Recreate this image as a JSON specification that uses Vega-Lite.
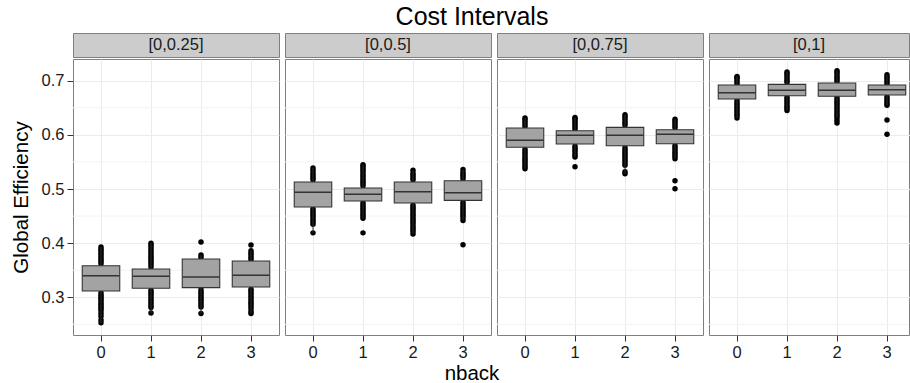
{
  "$schema": "https://vega.github.io/schema/vega-lite/v6.json",
  "padding": {"left": 10, "top": 0, "right": 0, "bottom": 0},
  "background": "white",
  "datasets": {
    "titles": [{"label": "Cost Intervals"}],
    "xtitles": [{"label": "nback"}],
    "strips": [{"panel": "[0,0.25]"}, {"panel": "[0,0.5]"}, {"panel": "[0,0.75]"}, {"panel": "[0,1]"}],
    "minor": [{"v": 0.25}, {"v": 0.35}, {"v": 0.45}, {"v": 0.55}, {"v": 0.65}],
    "boxes": [
      {"panel": "[0,0.25]", "nback": 0, "lo": 0.253, "q1": 0.3116, "med": 0.340, "q3": 0.3584, "hi": 0.393},
      {"panel": "[0,0.25]", "nback": 1, "lo": 0.271, "q1": 0.3166, "med": 0.3388, "q3": 0.3523, "hi": 0.400},
      {"panel": "[0,0.25]", "nback": 2, "lo": 0.270, "q1": 0.3178, "med": 0.3375, "q3": 0.3707, "hi": 0.378},
      {"panel": "[0,0.25]", "nback": 3, "lo": 0.270, "q1": 0.319, "med": 0.3406, "q3": 0.367, "hi": 0.386},
      {"panel": "[0,0.5]", "nback": 0, "lo": 0.419, "q1": 0.4668, "med": 0.4939, "q3": 0.5129, "hi": 0.539},
      {"panel": "[0,0.5]", "nback": 1, "lo": 0.446, "q1": 0.4778, "med": 0.4902, "q3": 0.5018, "hi": 0.545},
      {"panel": "[0,0.5]", "nback": 2, "lo": 0.417, "q1": 0.4742, "med": 0.495, "q3": 0.5129, "hi": 0.5345},
      {"panel": "[0,0.5]", "nback": 3, "lo": 0.442, "q1": 0.4791, "med": 0.4932, "q3": 0.5153, "hi": 0.536},
      {"panel": "[0,0.75]", "nback": 0, "lo": 0.5375, "q1": 0.577, "med": 0.590, "q3": 0.6126, "hi": 0.631},
      {"panel": "[0,0.75]", "nback": 1, "lo": 0.559, "q1": 0.5831, "med": 0.5992, "q3": 0.6077, "hi": 0.632},
      {"panel": "[0,0.75]", "nback": 2, "lo": 0.528, "q1": 0.580, "med": 0.5992, "q3": 0.6139, "hi": 0.637},
      {"panel": "[0,0.75]", "nback": 3, "lo": 0.556, "q1": 0.5837, "med": 0.601, "q3": 0.6095, "hi": 0.629},
      {"panel": "[0,1]", "nback": 0, "lo": 0.631, "q1": 0.6662, "med": 0.678, "q3": 0.692, "hi": 0.708},
      {"panel": "[0,1]", "nback": 1, "lo": 0.645, "q1": 0.6723, "med": 0.6823, "q3": 0.6933, "hi": 0.716},
      {"panel": "[0,1]", "nback": 2, "lo": 0.632, "q1": 0.6712, "med": 0.6823, "q3": 0.6957, "hi": 0.7185},
      {"panel": "[0,1]", "nback": 3, "lo": 0.6546, "q1": 0.6736, "med": 0.6834, "q3": 0.692, "hi": 0.711}
    ],
    "pts": [
      {"panel": "[0,0.25]", "nback": 0, "value": 0.362}, {"panel": "[0,0.25]", "nback": 0, "value": 0.366}, {"panel": "[0,0.25]", "nback": 0, "value": 0.370}, {"panel": "[0,0.25]", "nback": 0, "value": 0.374}, {"panel": "[0,0.25]", "nback": 0, "value": 0.378}, {"panel": "[0,0.25]", "nback": 0, "value": 0.382}, {"panel": "[0,0.25]", "nback": 0, "value": 0.386}, {"panel": "[0,0.25]", "nback": 0, "value": 0.389}, {"panel": "[0,0.25]", "nback": 0, "value": 0.393},
      {"panel": "[0,0.25]", "nback": 0, "value": 0.308}, {"panel": "[0,0.25]", "nback": 0, "value": 0.304}, {"panel": "[0,0.25]", "nback": 0, "value": 0.300}, {"panel": "[0,0.25]", "nback": 0, "value": 0.297}, {"panel": "[0,0.25]", "nback": 0, "value": 0.293}, {"panel": "[0,0.25]", "nback": 0, "value": 0.289}, {"panel": "[0,0.25]", "nback": 0, "value": 0.286}, {"panel": "[0,0.25]", "nback": 0, "value": 0.282}, {"panel": "[0,0.25]", "nback": 0, "value": 0.279}, {"panel": "[0,0.25]", "nback": 0, "value": 0.275}, {"panel": "[0,0.25]", "nback": 0, "value": 0.270}, {"panel": "[0,0.25]", "nback": 0, "value": 0.265}, {"panel": "[0,0.25]", "nback": 0, "value": 0.258}, {"panel": "[0,0.25]", "nback": 0, "value": 0.253},
      {"panel": "[0,0.25]", "nback": 1, "value": 0.356}, {"panel": "[0,0.25]", "nback": 1, "value": 0.360}, {"panel": "[0,0.25]", "nback": 1, "value": 0.364}, {"panel": "[0,0.25]", "nback": 1, "value": 0.368}, {"panel": "[0,0.25]", "nback": 1, "value": 0.372}, {"panel": "[0,0.25]", "nback": 1, "value": 0.376}, {"panel": "[0,0.25]", "nback": 1, "value": 0.380}, {"panel": "[0,0.25]", "nback": 1, "value": 0.384}, {"panel": "[0,0.25]", "nback": 1, "value": 0.388}, {"panel": "[0,0.25]", "nback": 1, "value": 0.392}, {"panel": "[0,0.25]", "nback": 1, "value": 0.396}, {"panel": "[0,0.25]", "nback": 1, "value": 0.400},
      {"panel": "[0,0.25]", "nback": 1, "value": 0.313}, {"panel": "[0,0.25]", "nback": 1, "value": 0.309}, {"panel": "[0,0.25]", "nback": 1, "value": 0.305}, {"panel": "[0,0.25]", "nback": 1, "value": 0.301}, {"panel": "[0,0.25]", "nback": 1, "value": 0.297}, {"panel": "[0,0.25]", "nback": 1, "value": 0.293}, {"panel": "[0,0.25]", "nback": 1, "value": 0.289}, {"panel": "[0,0.25]", "nback": 1, "value": 0.285}, {"panel": "[0,0.25]", "nback": 1, "value": 0.281}, {"panel": "[0,0.25]", "nback": 1, "value": 0.271},
      {"panel": "[0,0.25]", "nback": 2, "value": 0.374}, {"panel": "[0,0.25]", "nback": 2, "value": 0.378}, {"panel": "[0,0.25]", "nback": 2, "value": 0.402},
      {"panel": "[0,0.25]", "nback": 2, "value": 0.314}, {"panel": "[0,0.25]", "nback": 2, "value": 0.310}, {"panel": "[0,0.25]", "nback": 2, "value": 0.306}, {"panel": "[0,0.25]", "nback": 2, "value": 0.302}, {"panel": "[0,0.25]", "nback": 2, "value": 0.298}, {"panel": "[0,0.25]", "nback": 2, "value": 0.294}, {"panel": "[0,0.25]", "nback": 2, "value": 0.290}, {"panel": "[0,0.25]", "nback": 2, "value": 0.286}, {"panel": "[0,0.25]", "nback": 2, "value": 0.282}, {"panel": "[0,0.25]", "nback": 2, "value": 0.270},
      {"panel": "[0,0.25]", "nback": 3, "value": 0.370}, {"panel": "[0,0.25]", "nback": 3, "value": 0.374}, {"panel": "[0,0.25]", "nback": 3, "value": 0.378}, {"panel": "[0,0.25]", "nback": 3, "value": 0.382}, {"panel": "[0,0.25]", "nback": 3, "value": 0.386}, {"panel": "[0,0.25]", "nback": 3, "value": 0.3966},
      {"panel": "[0,0.25]", "nback": 3, "value": 0.315}, {"panel": "[0,0.25]", "nback": 3, "value": 0.311}, {"panel": "[0,0.25]", "nback": 3, "value": 0.307}, {"panel": "[0,0.25]", "nback": 3, "value": 0.303}, {"panel": "[0,0.25]", "nback": 3, "value": 0.299}, {"panel": "[0,0.25]", "nback": 3, "value": 0.295}, {"panel": "[0,0.25]", "nback": 3, "value": 0.291}, {"panel": "[0,0.25]", "nback": 3, "value": 0.287}, {"panel": "[0,0.25]", "nback": 3, "value": 0.283}, {"panel": "[0,0.25]", "nback": 3, "value": 0.279}, {"panel": "[0,0.25]", "nback": 3, "value": 0.274}, {"panel": "[0,0.25]", "nback": 3, "value": 0.270},

      {"panel": "[0,0.5]", "nback": 0, "value": 0.517}, {"panel": "[0,0.5]", "nback": 0, "value": 0.521}, {"panel": "[0,0.5]", "nback": 0, "value": 0.525}, {"panel": "[0,0.5]", "nback": 0, "value": 0.529}, {"panel": "[0,0.5]", "nback": 0, "value": 0.534}, {"panel": "[0,0.5]", "nback": 0, "value": 0.539},
      {"panel": "[0,0.5]", "nback": 0, "value": 0.463}, {"panel": "[0,0.5]", "nback": 0, "value": 0.459}, {"panel": "[0,0.5]", "nback": 0, "value": 0.455}, {"panel": "[0,0.5]", "nback": 0, "value": 0.451}, {"panel": "[0,0.5]", "nback": 0, "value": 0.447}, {"panel": "[0,0.5]", "nback": 0, "value": 0.443}, {"panel": "[0,0.5]", "nback": 0, "value": 0.439}, {"panel": "[0,0.5]", "nback": 0, "value": 0.435}, {"panel": "[0,0.5]", "nback": 0, "value": 0.419},
      {"panel": "[0,0.5]", "nback": 1, "value": 0.506}, {"panel": "[0,0.5]", "nback": 1, "value": 0.510}, {"panel": "[0,0.5]", "nback": 1, "value": 0.514}, {"panel": "[0,0.5]", "nback": 1, "value": 0.518}, {"panel": "[0,0.5]", "nback": 1, "value": 0.522}, {"panel": "[0,0.5]", "nback": 1, "value": 0.526}, {"panel": "[0,0.5]", "nback": 1, "value": 0.530}, {"panel": "[0,0.5]", "nback": 1, "value": 0.534}, {"panel": "[0,0.5]", "nback": 1, "value": 0.538}, {"panel": "[0,0.5]", "nback": 1, "value": 0.542}, {"panel": "[0,0.5]", "nback": 1, "value": 0.545},
      {"panel": "[0,0.5]", "nback": 1, "value": 0.474}, {"panel": "[0,0.5]", "nback": 1, "value": 0.470}, {"panel": "[0,0.5]", "nback": 1, "value": 0.466}, {"panel": "[0,0.5]", "nback": 1, "value": 0.462}, {"panel": "[0,0.5]", "nback": 1, "value": 0.458}, {"panel": "[0,0.5]", "nback": 1, "value": 0.454}, {"panel": "[0,0.5]", "nback": 1, "value": 0.450}, {"panel": "[0,0.5]", "nback": 1, "value": 0.446}, {"panel": "[0,0.5]", "nback": 1, "value": 0.419},
      {"panel": "[0,0.5]", "nback": 2, "value": 0.517}, {"panel": "[0,0.5]", "nback": 2, "value": 0.521}, {"panel": "[0,0.5]", "nback": 2, "value": 0.525}, {"panel": "[0,0.5]", "nback": 2, "value": 0.529}, {"panel": "[0,0.5]", "nback": 2, "value": 0.5345},
      {"panel": "[0,0.5]", "nback": 2, "value": 0.470}, {"panel": "[0,0.5]", "nback": 2, "value": 0.466}, {"panel": "[0,0.5]", "nback": 2, "value": 0.462}, {"panel": "[0,0.5]", "nback": 2, "value": 0.458}, {"panel": "[0,0.5]", "nback": 2, "value": 0.454}, {"panel": "[0,0.5]", "nback": 2, "value": 0.450}, {"panel": "[0,0.5]", "nback": 2, "value": 0.446}, {"panel": "[0,0.5]", "nback": 2, "value": 0.442}, {"panel": "[0,0.5]", "nback": 2, "value": 0.438}, {"panel": "[0,0.5]", "nback": 2, "value": 0.434}, {"panel": "[0,0.5]", "nback": 2, "value": 0.430}, {"panel": "[0,0.5]", "nback": 2, "value": 0.426}, {"panel": "[0,0.5]", "nback": 2, "value": 0.422}, {"panel": "[0,0.5]", "nback": 2, "value": 0.417},
      {"panel": "[0,0.5]", "nback": 3, "value": 0.519}, {"panel": "[0,0.5]", "nback": 3, "value": 0.523}, {"panel": "[0,0.5]", "nback": 3, "value": 0.527}, {"panel": "[0,0.5]", "nback": 3, "value": 0.531}, {"panel": "[0,0.5]", "nback": 3, "value": 0.536},
      {"panel": "[0,0.5]", "nback": 3, "value": 0.475}, {"panel": "[0,0.5]", "nback": 3, "value": 0.471}, {"panel": "[0,0.5]", "nback": 3, "value": 0.467}, {"panel": "[0,0.5]", "nback": 3, "value": 0.463}, {"panel": "[0,0.5]", "nback": 3, "value": 0.459}, {"panel": "[0,0.5]", "nback": 3, "value": 0.455}, {"panel": "[0,0.5]", "nback": 3, "value": 0.451}, {"panel": "[0,0.5]", "nback": 3, "value": 0.447}, {"panel": "[0,0.5]", "nback": 3, "value": 0.442}, {"panel": "[0,0.5]", "nback": 3, "value": 0.397},

      {"panel": "[0,0.75]", "nback": 0, "value": 0.616}, {"panel": "[0,0.75]", "nback": 0, "value": 0.620}, {"panel": "[0,0.75]", "nback": 0, "value": 0.624}, {"panel": "[0,0.75]", "nback": 0, "value": 0.628}, {"panel": "[0,0.75]", "nback": 0, "value": 0.631},
      {"panel": "[0,0.75]", "nback": 0, "value": 0.573}, {"panel": "[0,0.75]", "nback": 0, "value": 0.569}, {"panel": "[0,0.75]", "nback": 0, "value": 0.565}, {"panel": "[0,0.75]", "nback": 0, "value": 0.561}, {"panel": "[0,0.75]", "nback": 0, "value": 0.557}, {"panel": "[0,0.75]", "nback": 0, "value": 0.553}, {"panel": "[0,0.75]", "nback": 0, "value": 0.549}, {"panel": "[0,0.75]", "nback": 0, "value": 0.545}, {"panel": "[0,0.75]", "nback": 0, "value": 0.541}, {"panel": "[0,0.75]", "nback": 0, "value": 0.5375},
      {"panel": "[0,0.75]", "nback": 1, "value": 0.611}, {"panel": "[0,0.75]", "nback": 1, "value": 0.615}, {"panel": "[0,0.75]", "nback": 1, "value": 0.619}, {"panel": "[0,0.75]", "nback": 1, "value": 0.623}, {"panel": "[0,0.75]", "nback": 1, "value": 0.627}, {"panel": "[0,0.75]", "nback": 1, "value": 0.630}, {"panel": "[0,0.75]", "nback": 1, "value": 0.632},
      {"panel": "[0,0.75]", "nback": 1, "value": 0.579}, {"panel": "[0,0.75]", "nback": 1, "value": 0.575}, {"panel": "[0,0.75]", "nback": 1, "value": 0.571}, {"panel": "[0,0.75]", "nback": 1, "value": 0.567}, {"panel": "[0,0.75]", "nback": 1, "value": 0.563}, {"panel": "[0,0.75]", "nback": 1, "value": 0.559}, {"panel": "[0,0.75]", "nback": 1, "value": 0.541},
      {"panel": "[0,0.75]", "nback": 2, "value": 0.618}, {"panel": "[0,0.75]", "nback": 2, "value": 0.622}, {"panel": "[0,0.75]", "nback": 2, "value": 0.626}, {"panel": "[0,0.75]", "nback": 2, "value": 0.630}, {"panel": "[0,0.75]", "nback": 2, "value": 0.634}, {"panel": "[0,0.75]", "nback": 2, "value": 0.637},
      {"panel": "[0,0.75]", "nback": 2, "value": 0.576}, {"panel": "[0,0.75]", "nback": 2, "value": 0.572}, {"panel": "[0,0.75]", "nback": 2, "value": 0.568}, {"panel": "[0,0.75]", "nback": 2, "value": 0.564}, {"panel": "[0,0.75]", "nback": 2, "value": 0.560}, {"panel": "[0,0.75]", "nback": 2, "value": 0.556}, {"panel": "[0,0.75]", "nback": 2, "value": 0.552}, {"panel": "[0,0.75]", "nback": 2, "value": 0.548}, {"panel": "[0,0.75]", "nback": 2, "value": 0.544}, {"panel": "[0,0.75]", "nback": 2, "value": 0.532}, {"panel": "[0,0.75]", "nback": 2, "value": 0.528},
      {"panel": "[0,0.75]", "nback": 3, "value": 0.613}, {"panel": "[0,0.75]", "nback": 3, "value": 0.617}, {"panel": "[0,0.75]", "nback": 3, "value": 0.621}, {"panel": "[0,0.75]", "nback": 3, "value": 0.625}, {"panel": "[0,0.75]", "nback": 3, "value": 0.629},
      {"panel": "[0,0.75]", "nback": 3, "value": 0.580}, {"panel": "[0,0.75]", "nback": 3, "value": 0.576}, {"panel": "[0,0.75]", "nback": 3, "value": 0.572}, {"panel": "[0,0.75]", "nback": 3, "value": 0.568}, {"panel": "[0,0.75]", "nback": 3, "value": 0.564}, {"panel": "[0,0.75]", "nback": 3, "value": 0.560}, {"panel": "[0,0.75]", "nback": 3, "value": 0.556}, {"panel": "[0,0.75]", "nback": 3, "value": 0.5153}, {"panel": "[0,0.75]", "nback": 3, "value": 0.5006},

      {"panel": "[0,1]", "nback": 0, "value": 0.695}, {"panel": "[0,1]", "nback": 0, "value": 0.699}, {"panel": "[0,1]", "nback": 0, "value": 0.703}, {"panel": "[0,1]", "nback": 0, "value": 0.706}, {"panel": "[0,1]", "nback": 0, "value": 0.708},
      {"panel": "[0,1]", "nback": 0, "value": 0.663}, {"panel": "[0,1]", "nback": 0, "value": 0.659}, {"panel": "[0,1]", "nback": 0, "value": 0.655}, {"panel": "[0,1]", "nback": 0, "value": 0.651}, {"panel": "[0,1]", "nback": 0, "value": 0.647}, {"panel": "[0,1]", "nback": 0, "value": 0.643}, {"panel": "[0,1]", "nback": 0, "value": 0.639}, {"panel": "[0,1]", "nback": 0, "value": 0.636}, {"panel": "[0,1]", "nback": 0, "value": 0.631},
      {"panel": "[0,1]", "nback": 1, "value": 0.697}, {"panel": "[0,1]", "nback": 1, "value": 0.701}, {"panel": "[0,1]", "nback": 1, "value": 0.705}, {"panel": "[0,1]", "nback": 1, "value": 0.709}, {"panel": "[0,1]", "nback": 1, "value": 0.713}, {"panel": "[0,1]", "nback": 1, "value": 0.716},
      {"panel": "[0,1]", "nback": 1, "value": 0.669}, {"panel": "[0,1]", "nback": 1, "value": 0.665}, {"panel": "[0,1]", "nback": 1, "value": 0.661}, {"panel": "[0,1]", "nback": 1, "value": 0.657}, {"panel": "[0,1]", "nback": 1, "value": 0.653}, {"panel": "[0,1]", "nback": 1, "value": 0.649}, {"panel": "[0,1]", "nback": 1, "value": 0.645},
      {"panel": "[0,1]", "nback": 2, "value": 0.699}, {"panel": "[0,1]", "nback": 2, "value": 0.703}, {"panel": "[0,1]", "nback": 2, "value": 0.707}, {"panel": "[0,1]", "nback": 2, "value": 0.711}, {"panel": "[0,1]", "nback": 2, "value": 0.715}, {"panel": "[0,1]", "nback": 2, "value": 0.7185},
      {"panel": "[0,1]", "nback": 2, "value": 0.668}, {"panel": "[0,1]", "nback": 2, "value": 0.664}, {"panel": "[0,1]", "nback": 2, "value": 0.660}, {"panel": "[0,1]", "nback": 2, "value": 0.656}, {"panel": "[0,1]", "nback": 2, "value": 0.652}, {"panel": "[0,1]", "nback": 2, "value": 0.648}, {"panel": "[0,1]", "nback": 2, "value": 0.644}, {"panel": "[0,1]", "nback": 2, "value": 0.640}, {"panel": "[0,1]", "nback": 2, "value": 0.636}, {"panel": "[0,1]", "nback": 2, "value": 0.632}, {"panel": "[0,1]", "nback": 2, "value": 0.627}, {"panel": "[0,1]", "nback": 2, "value": 0.622},
      {"panel": "[0,1]", "nback": 3, "value": 0.695}, {"panel": "[0,1]", "nback": 3, "value": 0.699}, {"panel": "[0,1]", "nback": 3, "value": 0.703}, {"panel": "[0,1]", "nback": 3, "value": 0.707}, {"panel": "[0,1]", "nback": 3, "value": 0.711},
      {"panel": "[0,1]", "nback": 3, "value": 0.670}, {"panel": "[0,1]", "nback": 3, "value": 0.666}, {"panel": "[0,1]", "nback": 3, "value": 0.662}, {"panel": "[0,1]", "nback": 3, "value": 0.658}, {"panel": "[0,1]", "nback": 3, "value": 0.6546}, {"panel": "[0,1]", "nback": 3, "value": 0.6274}, {"panel": "[0,1]", "nback": 3, "value": 0.601}
    ]
  },
  "spacing": 2,
  "vconcat": [
    {"width": 800, "height": 30, "data": {"name": "titles"}, "view": {"stroke": null},
     "mark": {"type": "text", "fontSize": 25, "color": "#000000", "align": "center", "baseline": "alphabetic", "dx": -1, "dy": 10},
     "encoding": {"text": {"field": "label"}}},
    {
      "spacing": 4,
      "hconcat": [
        {
          "spacing": 0,
          "vconcat": [
            {"width": 206, "height": 24, "data": {"name": "strips"}, "transform": [{"filter": "datum.panel === '[0,0.25]'"}],
             "mark": {"type": "text", "fontSize": 16.5, "color": "#1a1a1a", "baseline": "middle", "align": "center"},
             "encoding": {"text": {"field": "panel"}}, "view": {"fill": "#cccccc", "stroke": "#7f7f7f"}},
            {"width": 206, "height": 276, "view": {"stroke": "#7f7f7f"},
             "layer": [
              {"data": {"name": "minor"}, "mark": {"type": "rule", "color": "#f3f3f3", "strokeWidth": 1},
               "encoding": {"y": {"field": "v", "type": "quantitative", "scale": {"domain": [0.2304, 0.7401], "nice": false, "zero": false}, "axis": {"title": "Global Efficiency"}}}},
              {"data": {"name": "pts"}, "transform": [{"filter": "datum.panel === '[0,0.25]'"}],
               "mark": {"type": "point", "filled": true, "size": 30, "color": "#000000", "opacity": 1},
               "encoding": {"x": {"field": "nback", "type": "ordinal", "scale": {"type": "band", "domain": [0, 1, 2, 3], "paddingInner": 0, "paddingOuter": 0.06}, "axis": {"title": null}},
                            "y": {"field": "value", "type": "quantitative", "axis": {"title": "Global Efficiency"}}}},
              {"data": {"name": "boxes"}, "transform": [{"filter": "datum.panel === '[0,0.25]'"}],
               "mark": {"type": "rule", "color": "#333333", "strokeWidth": 1},
               "encoding": {"x": {"field": "nback", "type": "ordinal", "axis": {"title": null}}, "y": {"field": "lo", "type": "quantitative", "axis": {"title": "Global Efficiency"}}, "y2": {"field": "hi"}}},
              {"data": {"name": "boxes"}, "transform": [{"filter": "datum.panel === '[0,0.25]'"}],
               "mark": {"type": "bar", "width": {"band": 0.75}, "fill": "#a3a3a3", "stroke": "#333333", "strokeWidth": 1.1},
               "encoding": {"x": {"field": "nback", "type": "ordinal", "axis": {"title": null}}, "y": {"field": "q1", "type": "quantitative", "axis": {"title": "Global Efficiency"}}, "y2": {"field": "q3"}}},
              {"data": {"name": "boxes"}, "transform": [{"filter": "datum.panel === '[0,0.25]'"}],
               "mark": {"type": "tick", "orient": "horizontal", "size": 37, "thickness": 1.5, "color": "#333333", "opacity": 1},
               "encoding": {"x": {"field": "nback", "type": "ordinal", "axis": {"title": null}}, "y": {"field": "med", "type": "quantitative", "axis": {"title": "Global Efficiency"}}}}
             ]}
          ]
        },
        {
          "spacing": 0,
          "vconcat": [
            {"width": 206, "height": 24, "data": {"name": "strips"}, "transform": [{"filter": "datum.panel === '[0,0.5]'"}],
             "mark": {"type": "text", "fontSize": 16.5, "color": "#1a1a1a", "baseline": "middle", "align": "center"},
             "encoding": {"text": {"field": "panel"}}, "view": {"fill": "#cccccc", "stroke": "#7f7f7f"}},
            {"width": 206, "height": 276, "view": {"stroke": "#7f7f7f"},
             "layer": [
              {"data": {"name": "minor"}, "mark": {"type": "rule", "color": "#f3f3f3", "strokeWidth": 1},
               "encoding": {"y": {"field": "v", "type": "quantitative", "scale": {"domain": [0.2304, 0.7401], "nice": false, "zero": false}, "axis": {"title": null, "labels": false, "ticks": false}}}},
              {"data": {"name": "pts"}, "transform": [{"filter": "datum.panel === '[0,0.5]'"}],
               "mark": {"type": "point", "filled": true, "size": 30, "color": "#000000", "opacity": 1},
               "encoding": {"x": {"field": "nback", "type": "ordinal", "scale": {"type": "band", "domain": [0, 1, 2, 3], "paddingInner": 0, "paddingOuter": 0.06}, "axis": {"title": null}},
                            "y": {"field": "value", "type": "quantitative", "axis": {"title": null, "labels": false, "ticks": false}}}},
              {"data": {"name": "boxes"}, "transform": [{"filter": "datum.panel === '[0,0.5]'"}],
               "mark": {"type": "rule", "color": "#333333", "strokeWidth": 1},
               "encoding": {"x": {"field": "nback", "type": "ordinal", "axis": {"title": null}}, "y": {"field": "lo", "type": "quantitative", "axis": {"title": null, "labels": false, "ticks": false}}, "y2": {"field": "hi"}}},
              {"data": {"name": "boxes"}, "transform": [{"filter": "datum.panel === '[0,0.5]'"}],
               "mark": {"type": "bar", "width": {"band": 0.75}, "fill": "#a3a3a3", "stroke": "#333333", "strokeWidth": 1.1},
               "encoding": {"x": {"field": "nback", "type": "ordinal", "axis": {"title": null}}, "y": {"field": "q1", "type": "quantitative", "axis": {"title": null, "labels": false, "ticks": false}}, "y2": {"field": "q3"}}},
              {"data": {"name": "boxes"}, "transform": [{"filter": "datum.panel === '[0,0.5]'"}],
               "mark": {"type": "tick", "orient": "horizontal", "size": 37, "thickness": 1.5, "color": "#333333", "opacity": 1},
               "encoding": {"x": {"field": "nback", "type": "ordinal", "axis": {"title": null}}, "y": {"field": "med", "type": "quantitative", "axis": {"title": null, "labels": false, "ticks": false}}}}
             ]}
          ]
        },
        {
          "spacing": 0,
          "vconcat": [
            {"width": 206, "height": 24, "data": {"name": "strips"}, "transform": [{"filter": "datum.panel === '[0,0.75]'"}],
             "mark": {"type": "text", "fontSize": 16.5, "color": "#1a1a1a", "baseline": "middle", "align": "center"},
             "encoding": {"text": {"field": "panel"}}, "view": {"fill": "#cccccc", "stroke": "#7f7f7f"}},
            {"width": 206, "height": 276, "view": {"stroke": "#7f7f7f"},
             "layer": [
              {"data": {"name": "minor"}, "mark": {"type": "rule", "color": "#f3f3f3", "strokeWidth": 1},
               "encoding": {"y": {"field": "v", "type": "quantitative", "scale": {"domain": [0.2304, 0.7401], "nice": false, "zero": false}, "axis": {"title": null, "labels": false, "ticks": false}}}},
              {"data": {"name": "pts"}, "transform": [{"filter": "datum.panel === '[0,0.75]'"}],
               "mark": {"type": "point", "filled": true, "size": 30, "color": "#000000", "opacity": 1},
               "encoding": {"x": {"field": "nback", "type": "ordinal", "scale": {"type": "band", "domain": [0, 1, 2, 3], "paddingInner": 0, "paddingOuter": 0.06}, "axis": {"title": null}},
                            "y": {"field": "value", "type": "quantitative", "axis": {"title": null, "labels": false, "ticks": false}}}},
              {"data": {"name": "boxes"}, "transform": [{"filter": "datum.panel === '[0,0.75]'"}],
               "mark": {"type": "rule", "color": "#333333", "strokeWidth": 1},
               "encoding": {"x": {"field": "nback", "type": "ordinal", "axis": {"title": null}}, "y": {"field": "lo", "type": "quantitative", "axis": {"title": null, "labels": false, "ticks": false}}, "y2": {"field": "hi"}}},
              {"data": {"name": "boxes"}, "transform": [{"filter": "datum.panel === '[0,0.75]'"}],
               "mark": {"type": "bar", "width": {"band": 0.75}, "fill": "#a3a3a3", "stroke": "#333333", "strokeWidth": 1.1},
               "encoding": {"x": {"field": "nback", "type": "ordinal", "axis": {"title": null}}, "y": {"field": "q1", "type": "quantitative", "axis": {"title": null, "labels": false, "ticks": false}}, "y2": {"field": "q3"}}},
              {"data": {"name": "boxes"}, "transform": [{"filter": "datum.panel === '[0,0.75]'"}],
               "mark": {"type": "tick", "orient": "horizontal", "size": 37, "thickness": 1.5, "color": "#333333", "opacity": 1},
               "encoding": {"x": {"field": "nback", "type": "ordinal", "axis": {"title": null}}, "y": {"field": "med", "type": "quantitative", "axis": {"title": null, "labels": false, "ticks": false}}}}
             ]}
          ]
        },
        {
          "spacing": 0,
          "vconcat": [
            {"width": 200, "height": 24, "data": {"name": "strips"}, "transform": [{"filter": "datum.panel === '[0,1]'"}],
             "mark": {"type": "text", "fontSize": 16.5, "color": "#1a1a1a", "baseline": "middle", "align": "center"},
             "encoding": {"text": {"field": "panel"}}, "view": {"fill": "#cccccc", "stroke": "#7f7f7f"}},
            {"width": 200, "height": 276, "view": {"stroke": "#7f7f7f"},
             "layer": [
              {"data": {"name": "minor"}, "mark": {"type": "rule", "color": "#f3f3f3", "strokeWidth": 1},
               "encoding": {"y": {"field": "v", "type": "quantitative", "scale": {"domain": [0.2304, 0.7401], "nice": false, "zero": false}, "axis": {"title": null, "labels": false, "ticks": false}}}},
              {"data": {"name": "pts"}, "transform": [{"filter": "datum.panel === '[0,1]'"}],
               "mark": {"type": "point", "filled": true, "size": 30, "color": "#000000", "opacity": 1},
               "encoding": {"x": {"field": "nback", "type": "ordinal", "scale": {"type": "band", "domain": [0, 1, 2, 3], "paddingInner": 0, "paddingOuter": 0.06, "range": [0, 206]}, "axis": {"title": null}},
                            "y": {"field": "value", "type": "quantitative", "axis": {"title": null, "labels": false, "ticks": false}}}},
              {"data": {"name": "boxes"}, "transform": [{"filter": "datum.panel === '[0,1]'"}],
               "mark": {"type": "rule", "color": "#333333", "strokeWidth": 1},
               "encoding": {"x": {"field": "nback", "type": "ordinal", "axis": {"title": null}}, "y": {"field": "lo", "type": "quantitative", "axis": {"title": null, "labels": false, "ticks": false}}, "y2": {"field": "hi"}}},
              {"data": {"name": "boxes"}, "transform": [{"filter": "datum.panel === '[0,1]'"}],
               "mark": {"type": "bar", "width": {"band": 0.75}, "fill": "#a3a3a3", "stroke": "#333333", "strokeWidth": 1.1},
               "encoding": {"x": {"field": "nback", "type": "ordinal", "axis": {"title": null}}, "y": {"field": "q1", "type": "quantitative", "axis": {"title": null, "labels": false, "ticks": false}}, "y2": {"field": "q3"}}},
              {"data": {"name": "boxes"}, "transform": [{"filter": "datum.panel === '[0,1]'"}],
               "mark": {"type": "tick", "orient": "horizontal", "size": 37, "thickness": 1.5, "color": "#333333", "opacity": 1},
               "encoding": {"x": {"field": "nback", "type": "ordinal", "axis": {"title": null}}, "y": {"field": "med", "type": "quantitative", "axis": {"title": null, "labels": false, "ticks": false}}}}
             ]}
          ]
        }
      ]
    },
    {"width": 800, "height": 22, "data": {"name": "xtitles"}, "view": {"stroke": null},
     "mark": {"type": "text", "fontSize": 20.5, "color": "#000000", "align": "center", "baseline": "alphabetic", "dx": -1, "dy": 6},
     "encoding": {"text": {"field": "label"}}}
  ],
  "config": {
    "font": "Liberation Sans",
    "text": {"font": "Liberation Sans"},
    "axis": {"labelFont": "Liberation Sans", "titleFont": "Liberation Sans", "labelFontSize": 16.5, "titleFontSize": 20.5, "titleFontWeight": "normal", "labelColor": "#1a1a1a", "titleColor": "#000000", "gridColor": "#ebebeb", "gridWidth": 1, "tickColor": "#333333", "tickSize": 6, "domain": false, "grid": true},
    "axisY": {"values": [0.3, 0.4, 0.5, 0.6, 0.7], "format": ".1f", "labelPadding": 3, "titlePadding": 10},
    "axisX": {"labelAngle": 0, "labelPadding": 3, "bandPosition": 0.5, "grid": true}
  }
}
